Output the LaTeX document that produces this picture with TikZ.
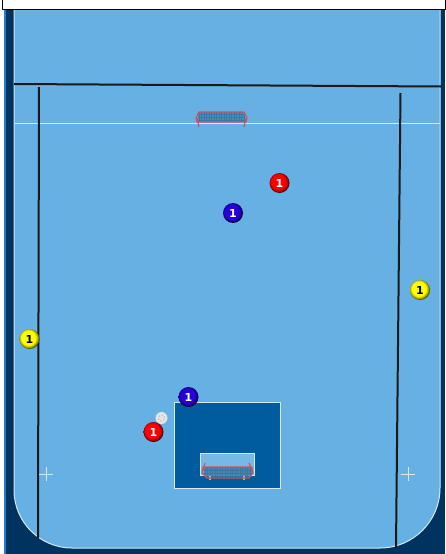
\documentclass[tikz,border=0pt]{standalone}
\usepackage{fontspec}
\setsansfont{DejaVu Sans}
\definecolor{fieldblue}{HTML}{66B0E3}
\definecolor{navyband}{HTML}{00335F}
\definecolor{edgeblue}{HTML}{1A80CF}
\definecolor{boxblue}{HTML}{005C9E}
\definecolor{creaseblue}{HTML}{76B8E6}
\definecolor{netred}{HTML}{C9565F}
\definecolor{netblue}{HTML}{3A78A6}
\definecolor{chalkwhite}{HTML}{D5E8F6}
\newcommand{\PlayerShade}[2]{\pgfdeclareradialshading{#1}{\pgfpoint{-5bp}{5bp}}{color(0bp)=(#2); color(18bp)=(#2); color(24bp)=(#2!55!black); color(28bp)=(black); color(50bp)=(black)}}
\PlayerShade{shblue}{blue!85!red}
\PlayerShade{shred}{red}
\PlayerShade{shyellow}{yellow}
\usetikzlibrary{positioning}

\begin{document}
\begin{tikzpicture}[x=1pt,y=-1pt,
 pl/.style={circle,inner sep=0pt,minimum size=20pt,font=\sffamily\bfseries\fontsize{11}{11}\selectfont},
 plb/.style={pl,shading=shblue,text=white},
 plr/.style={pl,shading=shred,text=white},
 ply/.style={pl,shading=shyellow,text=black},
 mark line/.style={black!90,line width=2pt},
 chalk/.style={chalkwhite,line width=1pt},
 net/.style={netblue,line width=.6pt},
 frame/.style={netred,line width=1.2pt,line join=round}]
\useasboundingbox (0,0) rectangle (445,554);
\fill[edgeblue] (4,0) rectangle (445,554);
\fill[navyband] (6,0) rectangle (445,554);
\draw[draw=chalkwhite,fill=fieldblue,line width=1pt] (14,8) -- (14,490) arc[start angle=180,end angle=90,radius=58] -- (380,548) arc[start angle=90,end angle=0,radius=60] -- (440,8) -- cycle;
\node[draw=black,fill=white,line width=1pt,minimum width=443pt,minimum height=10pt,inner sep=0pt,anchor=north west] (topbar) at (2,-1.5) {};
% lines
\draw[chalk] (14.5,123) coordinate (hl) -- (440,123) coordinate (hr);
\coordinate (tl) at (14,84); \coordinate (tr) at (441,86.5);
\coordinate (la) at (39,87); \coordinate (lb) at (38,538);
\coordinate (ra) at (400.5,93); \coordinate (rb) at (396,548);
\draw[mark line] (tl)--(tr);
\draw[mark line] (la)--(lb);
\draw[mark line] (ra)--(rb);
\foreach \n/\x/\y in {cl/46/474,cr/408/474} {
 \coordinate (\n) at (\x,\y);
 \draw[chalk] ([xshift=-7pt]\n)--([xshift=7pt]\n);
 \draw[chalk] ([yshift=-7pt]\n)--([yshift=7pt]\n);
}
% top goal
\fill[netblue,opacity=.65] (198,112) rectangle (245,122);
\foreach \x in {199,201.5,...,245} \draw[net] (\x,112)--(\x,122);
\foreach \y in {114,117,120} \draw[net] (198,\y)--(245,\y);
\draw[frame] (199,112)--(244,112)--(247,118)--(246,122)--(197,122)--(196,118)--cycle;
\draw[frame] (197,118)--(199,127);
\draw[frame] (246,118)--(244,127);
% crease and bottom goal
\node[draw=chalkwhite,fill=boxblue,line width=1pt,minimum width=106pt,minimum height=85.5pt,inner sep=0pt,anchor=north west] (box) at (173.5,402) {};
\node[draw=chalkwhite,fill=creaseblue,line width=1pt,minimum width=53.5pt,minimum height=22pt,inner sep=0pt,anchor=north west] (crease) at (200,452.5) {};
\fill[netblue,opacity=.8] (204,467) rectangle (252,477);
\foreach \x in {205,207.5,...,251} \draw[net] (\x,467)--(\x,476);
\foreach \y in {470,473} \draw[net] (203,\y)--(252,\y);
\draw[gray!60,line width=1.2pt] (210,476)--(210,480) (244,476)--(244,480);
\draw[frame] (203,467)--(252,467)--(253,473)--(249,478)--(207,478)--(202,473)--cycle;
\draw[frame] (202,473)--(205,463);
\draw[frame] (253,473)--(249,463);
% players
\node[plr] (r1) at (279.5,183) {1};
\node[plb] (b1) at (233,213) {1};
\node[ply] (y1) at (420,290) {1};
\node[ply] (y2) at (29.5,339) {1};
\node[plb] (b2) at (188.5,397) {1};
\node[plr] (r2) at (153.5,432) {1};
\node[circle,inner sep=0pt,minimum size=12pt,fill=white!90!black] (ball) at (161.5,418) {};
\foreach \a in {0,60,...,300} \fill[gray!55] (ball)++(\a+20:3pt) circle (.8pt);
\end{tikzpicture}
\end{document}
